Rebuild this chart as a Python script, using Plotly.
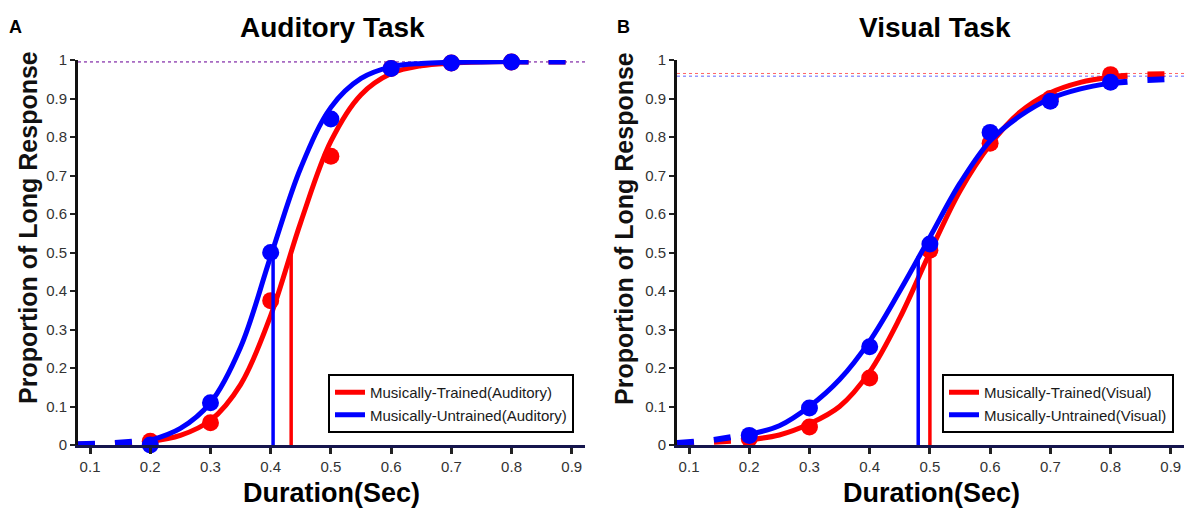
import plotly.graph_objects as go

# ---------------- data ----------------
durations = [0.2, 0.3, 0.4, 0.5, 0.6, 0.7, 0.8]
aud_trained = [0.01, 0.058, 0.375, 0.75, 0.978, 0.992, 0.995]
aud_untrained = [0.0, 0.11, 0.5, 0.847, 0.978, 0.992, 0.995]
vis_trained = [0.016, 0.047, 0.174, 0.506, 0.784, 0.90, 0.962]
vis_untrained = [0.025, 0.096, 0.255, 0.522, 0.812, 0.893, 0.942]

fit_x = [0.2, 0.25, 0.3, 0.35, 0.4, 0.45, 0.5, 0.55, 0.6, 0.65, 0.7, 0.75, 0.8]
aud_trained_fit = [0.009, 0.025, 0.064, 0.157, 0.336, 0.579, 0.789, 0.910, 0.965, 0.985, 0.992, 0.995, 0.996]
aud_untrained_fit = [0.012, 0.043, 0.11, 0.254, 0.49, 0.72, 0.877, 0.952, 0.982, 0.991, 0.994, 0.995, 0.996]
vis_trained_fit = [0.014, 0.026, 0.055, 0.10, 0.19, 0.33, 0.50, 0.66, 0.78, 0.865, 0.915, 0.942, 0.956]
vis_untrained_fit = [0.028, 0.05, 0.10, 0.17, 0.27, 0.40, 0.54, 0.68, 0.79, 0.855, 0.90, 0.925, 0.94]

low_x = [0.08, 0.14, 0.2]
high_x = [0.8, 0.86, 0.92]
aud_trained_low = [0.001, 0.003, 0.009]
aud_untrained_low = [0.002, 0.005, 0.012]
aud_trained_high = [0.996, 0.996, 0.996]
aud_untrained_high = [0.996, 0.996, 0.996]
vis_trained_low = [0.003, 0.007, 0.014]
vis_untrained_low = [0.005, 0.013, 0.028]
vis_trained_high = [0.956, 0.962, 0.964]
vis_untrained_high = [0.94, 0.948, 0.952]

# thresholds (PSE) and asymptotes
aud_thresholds = {"trained": 0.434, "untrained": 0.404}
vis_thresholds = {"trained": 0.500, "untrained": 0.4806}
aud_thr_height = {"trained": 0.5, "untrained": 0.5}
vis_thr_height = {"trained": 0.5, "untrained": 0.49}
aud_asym = {"trained": 0.995, "untrained": 0.995}
vis_asym = {"trained": 0.965, "untrained": 0.958}

x_ticks = [0.1, 0.2, 0.3, 0.4, 0.5, 0.6, 0.7, 0.8, 0.9]
y_ticks = [0, 0.1, 0.2, 0.3, 0.4, 0.5, 0.6, 0.7, 0.8, 0.9, 1]
y_tick_text = ["0", "0.1", "0.2", "0.3", "0.4", "0.5", "0.6", "0.7", "0.8", "0.9", "1"]
x_range = [0.08, 0.922]

RED = "#ff0000"
BLUE = "#0000ff"
FONT = "Liberation Sans, Arial, sans-serif"

fig = go.Figure()


def add_panel(xa, ya, legend, pts, fits, lows, highs, thr, thr_h, asym, names):
    for key, color, name in [("trained", RED, names[0]), ("untrained", BLUE, names[1])]:
        fig.add_trace(go.Scatter(x=x_range, y=[asym[key], asym[key]], mode="lines",
                                 line=dict(color=color, width=1, dash="dot"), opacity=0.6,
                                 xaxis=xa, yaxis=ya, showlegend=False, hoverinfo="skip"))
    for key, color, name in [("trained", RED, names[0]), ("untrained", BLUE, names[1])]:
        fig.add_trace(go.Scatter(x=fit_x, y=fits[key], mode="lines", name=name,
                                 line=dict(color=color, width=5, shape="spline"),
                                 xaxis=xa, yaxis=ya, legend=legend, showlegend=True))
        for ex, ey in [(low_x, lows[key]), (high_x, highs[key])]:
            fig.add_trace(go.Scatter(x=ex, y=ey, mode="lines",
                                     line=dict(color=color, width=6, dash="17px,20px"),
                                     xaxis=xa, yaxis=ya, showlegend=False, cliponaxis=False))
        fig.add_trace(go.Scatter(x=durations, y=pts[key], mode="markers",
                                 marker=dict(color=color, size=17),
                                 xaxis=xa, yaxis=ya, showlegend=False, cliponaxis=False))
        fig.add_trace(go.Scatter(x=[thr[key], thr[key]], y=[0, thr_h[key]], mode="lines",
                                 line=dict(color=color, width=3.5),
                                 xaxis=xa, yaxis=ya, showlegend=False))


add_panel("x", "y", "legend",
          {"trained": aud_trained, "untrained": aud_untrained},
          {"trained": aud_trained_fit, "untrained": aud_untrained_fit},
          {"trained": aud_trained_low, "untrained": aud_untrained_low},
          {"trained": aud_trained_high, "untrained": aud_untrained_high},
          aud_thresholds, aud_thr_height, aud_asym,
          ["Musically-Trained(Auditory)", "Musically-Untrained(Auditory)"])
add_panel("x2", "y2", "legend2",
          {"trained": vis_trained, "untrained": vis_untrained},
          {"trained": vis_trained_fit, "untrained": vis_untrained_fit},
          {"trained": vis_trained_low, "untrained": vis_untrained_low},
          {"trained": vis_trained_high, "untrained": vis_untrained_high},
          vis_thresholds, vis_thr_height, vis_asym,
          ["Musically-Trained(Visual)", "Musically-Untrained(Visual)"])

W, H = 1184, 510
ydom = [1 - 445 / H, 1 - 60 / H]

xaxis_common = dict(range=x_range, tickvals=x_ticks, ticktext=[str(t) for t in x_ticks],
                    showgrid=False, zeroline=False, showline=True, linecolor="#15154d",
                    linewidth=3, ticks="outside", ticklen=6, tickwidth=2.5, tickcolor="#222222",
                    tickfont=dict(family=FONT, size=15, color="#333333"), fixedrange=True,
                    automargin=False)
yaxis_common = dict(range=[0, 1], tickvals=y_ticks, ticktext=y_tick_text,
                    showgrid=False, zeroline=False, showline=True, linecolor="#111111",
                    linewidth=3, ticks="outside", ticklen=5, tickwidth=2, tickcolor="#222222",
                    tickfont=dict(family=FONT, size=15, color="#333333"), fixedrange=True,
                    automargin=False)

legend_common = dict(bgcolor="white", bordercolor="black", borderwidth=2,
                     font=dict(family=FONT, size=15, color="#1a1a1a"),
                     xanchor="right", yanchor="bottom", tracegroupgap=0,
                     itemwidth=30)

fig.update_layout(
    width=W, height=H, autosize=False,
    margin=dict(l=0, r=0, t=0, b=0, pad=0, autoexpand=False),
    paper_bgcolor="white", plot_bgcolor="white",
    xaxis=dict(domain=[78 / W, 585 / W], anchor="y", **xaxis_common),
    yaxis=dict(domain=ydom, anchor="x", **yaxis_common),
    xaxis2=dict(domain=[677 / W, 1.0], anchor="y2", **xaxis_common),
    yaxis2=dict(domain=ydom, anchor="x2", **yaxis_common),
    legend=dict(x=574 / W, y=1 - 433 / H, **legend_common),
    legend2=dict(x=1174 / W, y=1 - 433 / H, **legend_common),
    showlegend=True,
)

annotations = [
    dict(text="<b>A</b>", x=15 / W, y=1 - 27 / H, size=18),
    dict(text="<b>B</b>", x=623 / W, y=1 - 27 / H, size=18),
    dict(text="<b>Auditory Task</b>", x=332 / W, y=1 - 27 / H, size=28),
    dict(text="<b>Visual Task</b>", x=935 / W, y=1 - 27 / H, size=28),
    dict(text="<b>Duration(Sec)</b>", x=331 / W, y=1 - 493 / H, size=27),
    dict(text="<b>Duration(Sec)</b>", x=931 / W, y=1 - 493 / H, size=27),
]
for a in annotations:
    fig.add_annotation(text=a["text"], x=a["x"], y=a["y"], xref="paper", yref="paper",
                       xanchor="center", yanchor="middle", showarrow=False,
                       font=dict(family=FONT, size=a["size"], color="black"))
for xc in [28, 624]:
    fig.add_annotation(text="<b>Proportion of Long Response</b>", x=xc / W, y=1 - 228 / H,
                       xref="paper", yref="paper", xanchor="center", yanchor="middle",
                       showarrow=False, textangle=-90,
                       font=dict(family=FONT, size=25, color="#111111"))

fig.write_html("out.html", config={"responsive": False, "displayModeBar": False},
               post_script="document.body.style.margin='0';document.body.style.overflow='hidden';")
